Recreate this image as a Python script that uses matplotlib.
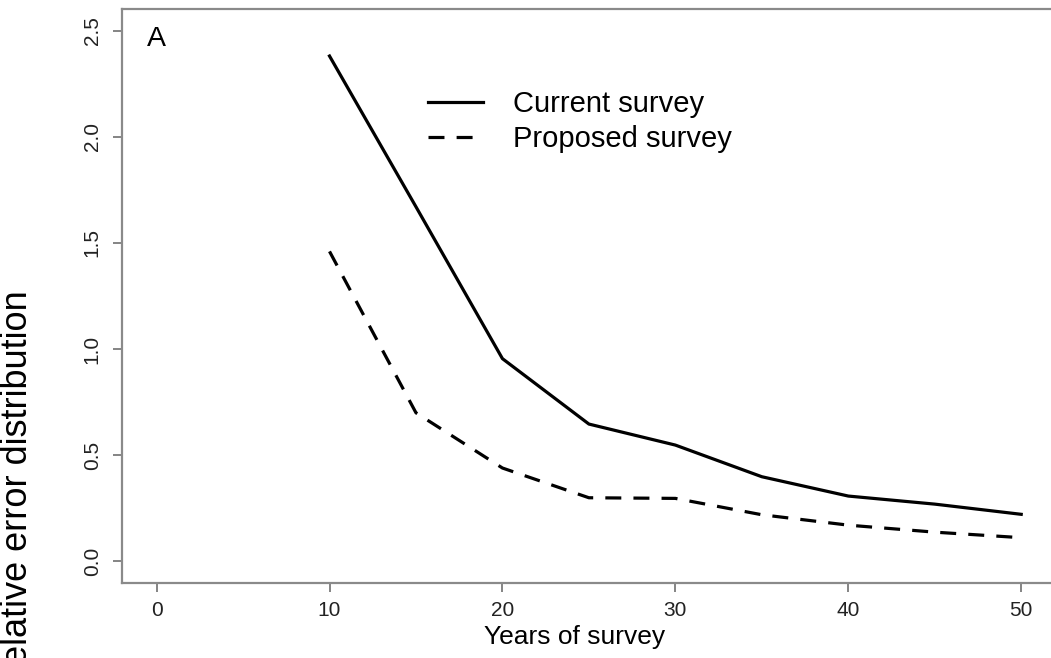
#!/usr/bin/env python3
"""Relative error vs years of survey, panel A."""
import matplotlib
matplotlib.use('Agg')
import matplotlib.pyplot as plt

plt.rcParams['font.family'] = ['Liberation Sans', 'DejaVu Sans']

years = [10, 15, 20, 25, 30, 35, 40, 45, 50]
current = [2.38, 1.67, 0.955, 0.647, 0.548, 0.399, 0.308, 0.27, 0.222]
proposed = [1.46, 0.70, 0.44, 0.30, 0.297, 0.22, 0.171, 0.138, 0.112]
xticks = [0, 10, 20, 30, 40, 50]
yticks = [0.0, 0.5, 1.0, 1.5, 2.0, 2.5]

W, H = 1051, 658
fig = plt.figure(figsize=(W / 100, H / 100), dpi=100)
left, right, top, bottom = 122, 1055.8, 9.3, 582.7
ax = fig.add_axes([left / W, 1 - bottom / H, (right - left) / W, (bottom - top) / H])

ax.plot(years, current, color='black', lw=2.3, label='Current survey')
ax.plot(years, proposed, color='black', lw=2.3, dashes=(5, 3.8),
        dash_capstyle='butt', label='Proposed survey')

ax.set_xlim(-2, 52)
ax.set_ylim(-0.1, 2.6)
ax.set_xticks(xticks)
ax.set_yticks(yticks)
ax.set_xticklabels([str(t) for t in xticks])
ax.set_yticklabels([f'{t:.1f}' for t in yticks], rotation=90, va='center')
ax.tick_params(direction='out', length=6.5, width=1.2, color='#707070',
               labelsize=15, labelcolor='#222222')
ax.tick_params(axis='x', pad=7)
ax.tick_params(axis='y', pad=8)
for sp in ax.spines.values():
    sp.set_color('#8a8a8a')
    sp.set_linewidth(1.6)

leg = ax.legend(loc='upper left', bbox_to_anchor=(428 / W, 1 - 90 / H),
                bbox_transform=fig.transFigure, frameon=False, fontsize=21,
                handlelength=1.9, handletextpad=1.0, labelspacing=0.25,
                borderpad=0, borderaxespad=0)

fig.text(147 / W, 1 - 46 / H, 'A', fontsize=20.5, ha='left', va='baseline')
fig.text(574.5 / W, 1 - 637 / H, 'Years of survey', fontsize=19,
         ha='center', va='center')
fig.text(18 / W, 1 - 290 / H, 'Relative error distribution', fontsize=26,
         rotation=90, ha='center', va='top')

fig.savefig('out.png', dpi=100)
plt.close(fig)
